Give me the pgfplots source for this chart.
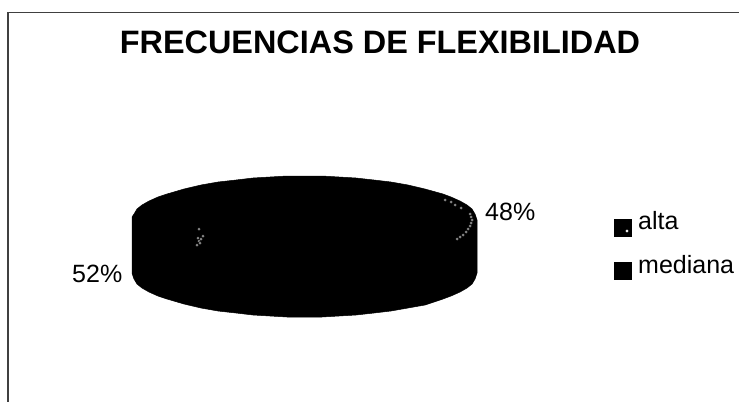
\documentclass[border=0pt]{standalone}
\usepackage{pgfplots}
\pgfplotsset{compat=1.18}
\usepackage{fontspec}
\setmainfont{Liberation Sans}

% outline of the 3d pie, read off in image pixels
\pgfplotstableread{
x y
132 217
134 214
137 209
142 205
149 201
158 197
167 194
184 189
201 185
218 182
236 180
253 178
270 177
287 176
305 176
322 176
339 177
356 178
374 180
391 182
408 185
425 189
443 194
451 197
460 201
467 205
472 209
475 214
477 220
477 273
475 279
472 284
467 288
460 292
451 296
443 299
425 305
408 308
391 311
374 313
356 315
339 316
322 317
305 317
287 317
270 316
253 315
236 313
218 311
201 308
184 304
167 299
158 296
149 292
142 288
137 284
134 279
132 273
}\pieoutline

% bright specks left in the dark pie
\pgfplotstableread{
x y
198 238
199 241
200 243
197 245
201 239
203 236
199 229
470 214
471 217
472 220
471 223
470 226
468 229
466 232
463 235
460 237
457 239
451 202
455 205
445 200
461 208
}\piespecks

\begin{document}
\begin{tikzpicture}
\begin{axis}[
    scale only axis,
    width=739pt,
    height=402pt,
    xmin=0, xmax=739,
    ymin=0, ymax=402,
    y dir=reverse,
    axis line style={draw=none},
    ticks=none,
    clip=true,
]
% chart frame (only top and left survive in the scan)
\addplot[black!75, line width=1.4pt] coordinates {(739,12.5)(8,12.5)(8,402)};
\addplot[fill=black, draw=black, line width=0.5pt] table[x=x,y=y] {\pieoutline} -- cycle;
\addplot[only marks, mark=*, mark size=1.5pt, mark options={draw=none, fill=white}] table[x=x,y=y] {\piespecks};
% legend keys
\addplot[only marks, mark=square*, mark size=8.5pt, black] coordinates {(623,228)(623,271)};
\addplot[only marks, mark=*, mark size=1.8pt, mark options={draw=none, fill=white}] coordinates {(627,231)};
\node[anchor=base, font=\fontsize{32.4}{32}\selectfont\bfseries, text=black] at (axis cs:380,53) {FRECUENCIAS DE FLEXIBILIDAD};
\node[anchor=base west, inner sep=0pt, font=\fontsize{25}{25}\selectfont, text=black] at (axis cs:485,220) {48\%};
\node[anchor=base west, inner sep=0pt, font=\fontsize{25}{25}\selectfont, text=black] at (axis cs:72,282) {52\%};
\node[anchor=base west, inner sep=0pt, font=\fontsize{25}{25}\selectfont, text=black] at (axis cs:638,229) {alta};
\node[anchor=base west, inner sep=0pt, font=\fontsize{25}{25}\selectfont, text=black] at (axis cs:638,273) {mediana};
\end{axis}
\end{tikzpicture}
\end{document}
